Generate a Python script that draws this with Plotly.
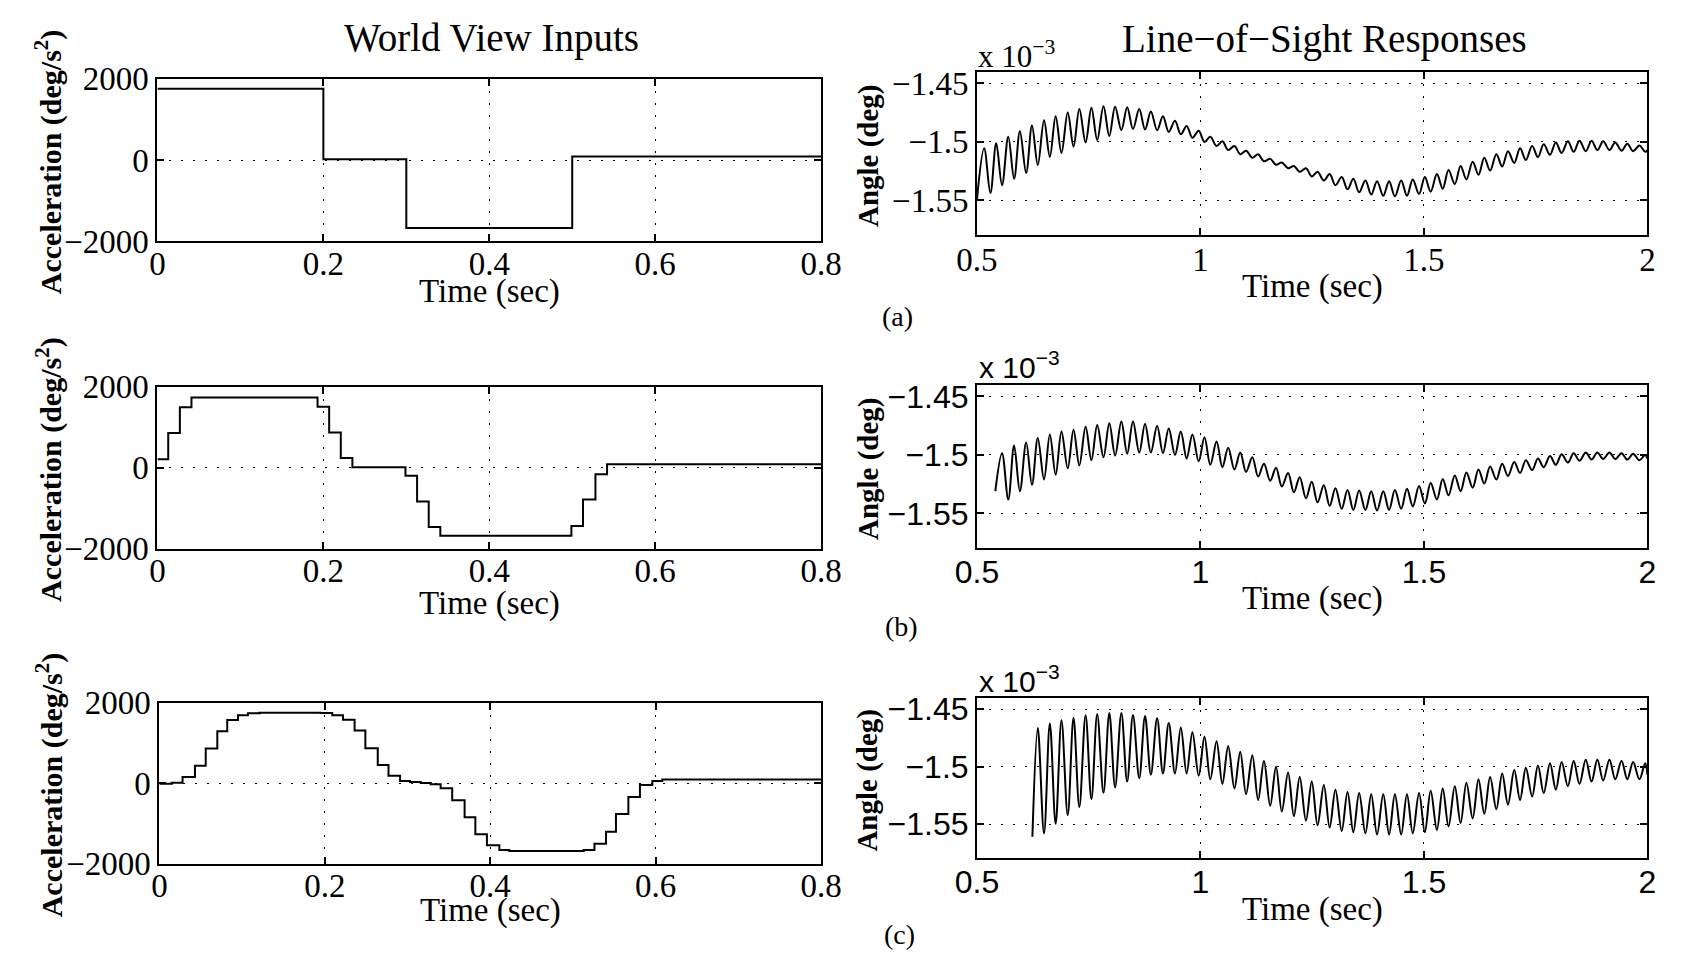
import plotly.graph_objects as go

# ---------------- data ----------------
# Left column: stepped acceleration inputs (deg/s^2); each value holds from its time on
STEP_T_A = [0.000, 0.200, 0.300, 0.500, 0.800]
STEP_V_A = [1750, 20, -1670, 85, 85]

STEP_T_B = [0.000, 0.013, 0.027, 0.041, 0.193, 0.207, 0.221, 0.235, 0.299, 0.313,
            0.327, 0.341, 0.499, 0.513, 0.528, 0.542, 0.800]
STEP_V_B = [206, 857, 1492, 1735, 1508, 873, 238, 10, -198, -833,
            -1468, -1683, -1444, -786, -159, 85, 85]

STEP_T_C = [0.000, 0.015, 0.028, 0.043, 0.056, 0.070, 0.082, 0.095, 0.107, 0.121,
            0.195, 0.209, 0.222, 0.236, 0.249, 0.264, 0.277, 0.291, 0.303, 0.316,
            0.328, 0.340, 0.354, 0.369, 0.382, 0.396, 0.411, 0.423, 0.513, 0.526,
            0.540, 0.552, 0.567, 0.581, 0.596, 0.608, 0.800]
STEP_V_C = [-15, 10, 150, 430, 860, 1290, 1570, 1690, 1735, 1752,
            1745, 1690, 1575, 1310, 865, 450, 185, 55, 25, 0,
            -30, -130, -425, -850, -1270, -1545, -1665, -1690, -1665, -1510,
            -1210, -770, -345, -50, 55, 90, 90]

# Right column: line-of-sight angle (x 10^-3 deg), read at the extrema of the ripple
T_EXT = [0.503, 0.516, 0.530, 0.543, 0.556, 0.570, 0.583, 0.596, 0.610, 0.623,
         0.636, 0.650, 0.663, 0.676, 0.689, 0.703, 0.716, 0.729, 0.743, 0.756,
         0.769, 0.783, 0.796, 0.809, 0.823, 0.836, 0.849, 0.863, 0.876, 0.889,
         0.903, 0.916, 0.929, 0.943, 0.956, 0.969, 0.982, 0.996, 1.009, 1.022,
         1.036, 1.049, 1.062, 1.076, 1.089, 1.102, 1.116, 1.129, 1.142, 1.156,
         1.169, 1.182, 1.196, 1.209, 1.222, 1.236, 1.249, 1.262, 1.276, 1.289,
         1.302, 1.316, 1.329, 1.342, 1.355, 1.369, 1.382, 1.395, 1.409, 1.422,
         1.435, 1.449, 1.462, 1.475, 1.489, 1.502, 1.515, 1.529, 1.542, 1.555,
         1.569, 1.582, 1.595, 1.609, 1.622, 1.635, 1.648, 1.662, 1.675, 1.688,
         1.702, 1.715, 1.728, 1.742, 1.755, 1.768, 1.782, 1.795, 1.808, 1.822,
         1.835, 1.848, 1.862, 1.875, 1.888, 1.901, 1.915, 1.928, 1.942, 1.955,
         1.968, 1.982, 1.995]

A_START = (0.500, -1.549)
A_EXT = [-1.5055, -1.5436, -1.5012, -1.537, -1.4955, -1.5315, -1.4909, -1.5265, -1.486, -1.5197,
         -1.4814, -1.5128, -1.478, -1.5095, -1.4748, -1.504, -1.472, -1.5004, -1.4709, -1.4984,
         -1.4695, -1.4949, -1.470, -1.490, -1.4705, -1.489, -1.472, -1.4895, -1.474, -1.490,
         -1.478, -1.4915, -1.482, -1.4935, -1.4865, -1.4965, -1.4905, -1.500, -1.4955, -1.5035,
         -1.4995, -1.507, -1.5035, -1.5105, -1.5075, -1.5135, -1.5105, -1.5165, -1.5145, -1.5195,
         -1.5175, -1.5225, -1.5205, -1.5255, -1.5225, -1.5295, -1.5255, -1.533, -1.5275, -1.537,
         -1.530, -1.5405, -1.5315, -1.543, -1.533, -1.545, -1.5335, -1.546, -1.5335, -1.5465,
         -1.533, -1.546, -1.532, -1.5445, -1.530, -1.5425, -1.5275, -1.540, -1.524, -1.536,
         -1.5205, -1.532, -1.517, -1.528, -1.5135, -1.5245, -1.5105, -1.521, -1.508, -1.518,
         -1.5055, -1.5155, -1.5035, -1.513, -1.502, -1.511, -1.5005, -1.5095, -1.4995, -1.5085,
         -1.499, -1.508, -1.499, -1.507, -1.4995, -1.507, -1.5005, -1.5075, -1.5015, -1.508,
         -1.503, -1.5085]
A_END = -1.507

B_START = (0.541, -1.531)
B_EXT = [-1.4985, -1.538, -1.492, -1.531, -1.4895, -1.5255, -1.4855, -1.521, -1.4825, -1.517,
         -1.480, -1.5115, -1.4785, -1.509, -1.476, -1.5045, -1.4745, -1.502, -1.473, -1.5005,
         -1.4715, -1.499, -1.4715, -1.498, -1.4735, -1.498, -1.475, -1.4985, -1.4775, -1.500,
         -1.480, -1.503, -1.4825, -1.5055, -1.485, -1.5085, -1.4885, -1.5105, -1.494, -1.5125,
         -1.498, -1.5145, -1.502, -1.5185, -1.5075, -1.522, -1.511, -1.527, -1.5155, -1.532,
         -1.519, -1.537, -1.523, -1.5405, -1.526, -1.5435, -1.5285, -1.546, -1.530, -1.547,
         -1.5305, -1.547, -1.531, -1.5475, -1.531, -1.547, -1.530, -1.546, -1.529, -1.544,
         -1.5265, -1.5415, -1.524, -1.538, -1.5205, -1.5345, -1.5175, -1.531, -1.515, -1.528,
         -1.5125, -1.5245, -1.510, -1.521, -1.5075, -1.518, -1.506, -1.5155, -1.5045, -1.513,
         -1.503, -1.5105, -1.501, -1.5085, -1.4995, -1.5065, -1.4985, -1.505, -1.498, -1.504,
         -1.498, -1.5035, -1.498, -1.5035, -1.4985, -1.504, -1.499, -1.5045, -1.500]
B_END = -1.503

C_START = (0.624, -1.561)
C_EXT = [-1.4663, -1.558, -1.4625, -1.5497, -1.4597, -1.5422, -1.4575, -1.5352, -1.4553, -1.5283,
         -1.4542, -1.5228, -1.4533, -1.518, -1.4533, -1.513, -1.455, -1.510, -1.456, -1.507,
         -1.458, -1.506, -1.462, -1.506, -1.466, -1.506, -1.470, -1.508, -1.474, -1.511,
         -1.478, -1.515, -1.482, -1.519, -1.487, -1.524, -1.490, -1.529, -1.495, -1.534,
         -1.500, -1.539, -1.505, -1.543, -1.509, -1.547, -1.513, -1.551, -1.516, -1.553,
         -1.520, -1.556, -1.522, -1.557, -1.523, -1.558, -1.524, -1.559, -1.524, -1.559,
         -1.524, -1.559, -1.524, -1.558, -1.523, -1.557, -1.521, -1.555, -1.519, -1.552,
         -1.517, -1.549, -1.514, -1.545, -1.511, -1.541, -1.509, -1.537, -1.506, -1.533,
         -1.503, -1.529, -1.501, -1.526, -1.499, -1.523, -1.497, -1.520, -1.496, -1.517,
         -1.495, -1.515, -1.494, -1.513, -1.494, -1.512, -1.494, -1.511, -1.495, -1.511,
         -1.496, -1.511, -1.497]
C_END = -1.507

T_END = 2.0

LEFT_XTICKS = [0, 0.2, 0.4, 0.6, 0.8]
LEFT_XTEXT = ["0", "0.2", "0.4", "0.6", "0.8"]
LEFT_YTICKS = [-2000, 0, 2000]
RIGHT_XTICKS = [0.5, 1, 1.5, 2]
RIGHT_XTEXT = ["0.5", "1", "1.5", "2"]
RIGHT_YTICKS = [-1.55, -1.5, -1.45]
RIGHT_YTEXT = ["\u22121.55", "\u22121.5", "\u22121.45"]

# ---------------- figure ----------------
W, H = 1685, 974
SERIF = "Liberation Serif, Times New Roman, serif"
SANS = "Liberation Sans, Arial, sans-serif"


def fx(px):
    return px / W


def fy(py):
    return 1 - py / H


def ripple(start, ext, end):
    t = [start[0]] + T_EXT[len(T_EXT) - len(ext):] + [T_END]
    v = [start[1]] + ext + [end]
    return t, v


ta, va = ripple(A_START, A_EXT, A_END)
tb, vb = ripple(B_START, B_EXT, B_END)
tc, vc = ripple(C_START, C_EXT, C_END)

fig = go.Figure()
series = [
    (STEP_T_A, STEP_V_A, "hv"), (ta, va, "spline"),
    (STEP_T_B, STEP_V_B, "hv"), (tb, vb, "spline"),
    (STEP_T_C, STEP_V_C, "hv"), (tc, vc, "spline"),
]
for i, (x, y, shape) in enumerate(series):
    sfx = "" if i == 0 else str(i + 1)
    fig.add_trace(go.Scatter(
        x=x, y=y, mode="lines",
        line=dict(color="black", width=2, shape=shape),
        xaxis="x" + sfx, yaxis="y" + sfx,
        showlegend=False, hoverinfo="skip"))

# plot-area boxes in pixels: (left, right, top, bottom)
boxes = [
    (139, 820, 64, 233), (980, 1668, 57, 226),
    (139, 820, 384, 552), (980, 1668, 382, 551),
    (141, 820, 712, 879), (980, 1668, 707, 873),
]


def axis_style(fam, size):
    return dict(
        showline=True, linecolor="black", linewidth=2, mirror="ticks",
        ticks="inside", ticklen=7, tickwidth=1.5, tickcolor="black",
        showgrid=True, gridcolor="black", gridwidth=1.3, griddash="2px,10px",
        zeroline=False, tickfont=dict(family=fam, size=size, color="black"),
    )


layout_axes = {}
for i, (l, r, t, b) in enumerate(boxes):
    sfx = "" if i == 0 else str(i + 1)
    right = i % 2 == 1
    fam = SANS if (right and i > 1) else SERIF
    size = 32 if fam == SANS else 33
    xa = axis_style(fam, size)
    ya = axis_style(fam, size)
    xa.update(domain=[fx(l), fx(r)], anchor="y" + sfx)
    ya.update(domain=[fy(b), fy(t)], anchor="x" + sfx)
    if right:
        xa.update(range=[0.5, 2.0], tickvals=RIGHT_XTICKS, ticktext=RIGHT_XTEXT,
                  ticklabelstandoff=-5)
        ya.update(range=[-1.5792, -1.4402], tickvals=RIGHT_YTICKS, ticktext=RIGHT_YTEXT)
    else:
        xa.update(range=[0, 0.8], tickvals=LEFT_XTICKS, ticktext=LEFT_XTEXT,
                  ticklabelstandoff=-8)
        ya.update(range=[-2000, 2000], tickvals=LEFT_YTICKS)
    layout_axes["xaxis" + sfx] = xa
    layout_axes["yaxis" + sfx] = ya

ann = []


def note(text, px, py, fam=SERIF, size=32, angle=0, xanchor="center", yanchor="middle"):
    ann.append(dict(text=text, x=fx(px), y=fy(py), xref="paper", yref="paper",
                    showarrow=False, textangle=angle, xanchor=xanchor, yanchor=yanchor,
                    font=dict(family=fam, size=size, color="black")))


note("World View Inputs", 482, 22, size=39)
note("Line\u2212of\u2212Sight Responses", 1337, 23, size=39)

for (l, r, t, b), tcy in zip(boxes, [285, 280, 609, 604, 928, 927]):
    note("Time (sec)", (l + r) / 2, tcy, size=33)

for (l, r, t, b) in boxes[0::2]:
    note("<b>Acceleration (deg/s<sup>2</sup>)</b>", 28, (t + b) / 2 + 2, size=30, angle=-90)
for (l, r, t, b) in boxes[1::2]:
    note("<b>Angle (deg)</b>", 868, (t + b) / 2 + 2, size=29, angle=-90)

note("x 10<sup>\u22123</sup>", 979, 39, fam=SERIF, size=31, xanchor="left")
note("x 10<sup>\u22123</sup>", 980, 361, fam=SANS, size=30, xanchor="left")
note("x 10<sup>\u22123</sup>", 980, 687, fam=SANS, size=30, xanchor="left")

note("(a)", 898, 311, size=28)
note("(b)", 903, 633, size=28)
note("(c)", 900, 953, size=28)

fig.update_layout(
    width=W, height=H, autosize=False,
    margin=dict(l=0, r=0, t=0, b=0),
    paper_bgcolor="white", plot_bgcolor="white",
    annotations=ann, **layout_axes,
)

fig.write_html("out.html")
